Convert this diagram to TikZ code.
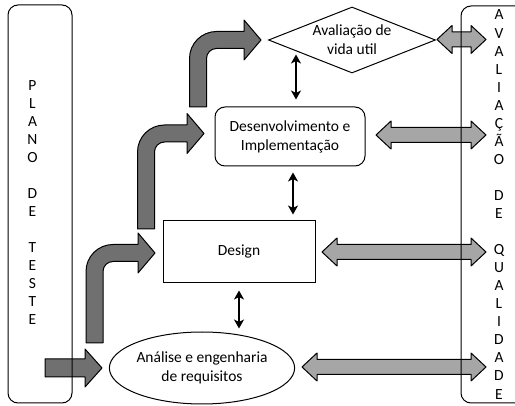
\documentclass[tikz,border=0pt]{standalone}
\usepackage{fontspec}
\setmainfont{Carlito}
\usetikzlibrary{arrows.meta,shapes.geometric}
\definecolor{darkfill}{RGB}{112,112,112}
\definecolor{lightfill}{RGB}{166,166,166}
\tikzset{
  txt/.style={font=\fontsize{15.5}{19}\selectfont, align=center},
  letter/.style={font=\fontsize{15.5}{18}\selectfont, inner sep=0pt, text height=10pt, text depth=0pt},
  biarrow/.style={line width=1.8pt, {Stealth[length=9pt,width=10pt,inset=2.5pt]}-{Stealth[length=9pt,width=10pt,inset=2.5pt]}},
  bentfill/.style={fill=darkfill, draw=black, line width=1pt, line join=round},
  widefill/.style={fill=lightfill, draw=black, line width=1pt, line join=round}
}
% up and right bent arrow: centre x, bottom y, centre y of the top part, tip x
\newcommand{\bentArrow}[4]{%
  \filldraw[bentfill] (#1-8.5,#2) -- (#1-8.5,#3+18.5)
    .. controls (#1-8.5,#3+3.6) and (#1+3.6,#3-8.5) .. (#1+18.5,#3-8.5)
    -- (#4-17,#3-8.5) -- (#4-17,#3-20) -- (#4,#3) -- (#4-17,#3+20) -- (#4-17,#3+8.5)
    -- (#1+18.5,#3+8.5)
    .. controls (#1+13,#3+8.5) and (#1+8.5,#3+13) .. (#1+8.5,#3+18.5)
    -- (#1+8.5,#2) -- cycle;}
% grey double arrow: left tip x, right tip x, y
\newcommand{\wideArrow}[3]{%
  \filldraw[widefill] (#1,#3) -- (#1+15,#3-14) -- (#1+15,#3-7.5) -- (#2-15,#3-7.5)
    -- (#2-15,#3-14) -- (#2,#3) -- (#2-15,#3+14) -- (#2-15,#3+7.5) -- (#1+15,#3+7.5)
    -- (#1+15,#3+14) -- cycle;}
\begin{document}
\begin{tikzpicture}[x=1pt,y=-1pt]
\useasboundingbox (0,0) rectangle (515,406);
% phases
\node[txt, draw, line width=1pt, shape=diamond, inner sep=0pt, shape aspect=2.5,
      minimum width=167pt, minimum height=66pt] (vida) at (352,40) {Avaliação de\\vida util};
\node[txt, draw, line width=1pt, rounded corners=10pt, minimum width=150pt,
      minimum height=59pt] (impl) at (290,136.5) {Desenvolvimento e\\Implementação};
\node[txt, draw, line width=1pt, minimum width=152pt, minimum height=62pt] (design) at (239,252) {Design};
\node[txt, draw, line width=1pt, ellipse, inner sep=0pt, minimum width=182pt,
      minimum height=72pt] (req) at (202,368) {Análise e engenharia\\de requisitos};
% links between phases
\draw[biarrow] ([shift={(6,-7)}]impl.north) -- ([shift={(6,-52)}]impl.north);
\draw[biarrow] ([shift={(3,6)}]impl.south) -- ([shift={(3,48)}]impl.south);
\draw[biarrow] ([shift={(0,7)}]design.south) -- ([shift={(0,45)}]design.south);
% flow arrows
\filldraw[bentfill] (45,359) -- (85,359) -- (85,349) -- (102,368) -- (85,387) -- (85,377) -- (45,377) -- cycle;
\bentArrow{94.5}{343}{253}{155}
\bentArrow{146}{229}{133.5}{204}
\bentArrow{198}{107}{40}{261}
% quality arrows
\wideArrow{437}{486}{39.5}
\wideArrow{376}{486}{135}
\wideArrow{322}{486}{252}
\wideArrow{302}{486}{367}
% side boxes
\draw[line width=1pt, rounded corners=10pt] (8,5) rectangle (72,403);
\draw[line width=1pt, rounded corners=10pt] (540,6) -- (461,6) -- (461,403) -- (540,403);
\foreach \c [count=\i] in {P,L,A,N,O,,D,E,,T,E,S,T,E}
  \node[letter] (plano\i) at (32.5,{86+18*(\i-1)}) {\c};
\foreach \c [count=\i] in {A,V,A,L,I,A,Ç,Ã,O,,D,E,,Q,U,A,L,I,D,A,D,E}
  \node[letter] (qual\i) at (499,{15+18.05*(\i-1)}) {\c};
\end{tikzpicture}
\end{document}
